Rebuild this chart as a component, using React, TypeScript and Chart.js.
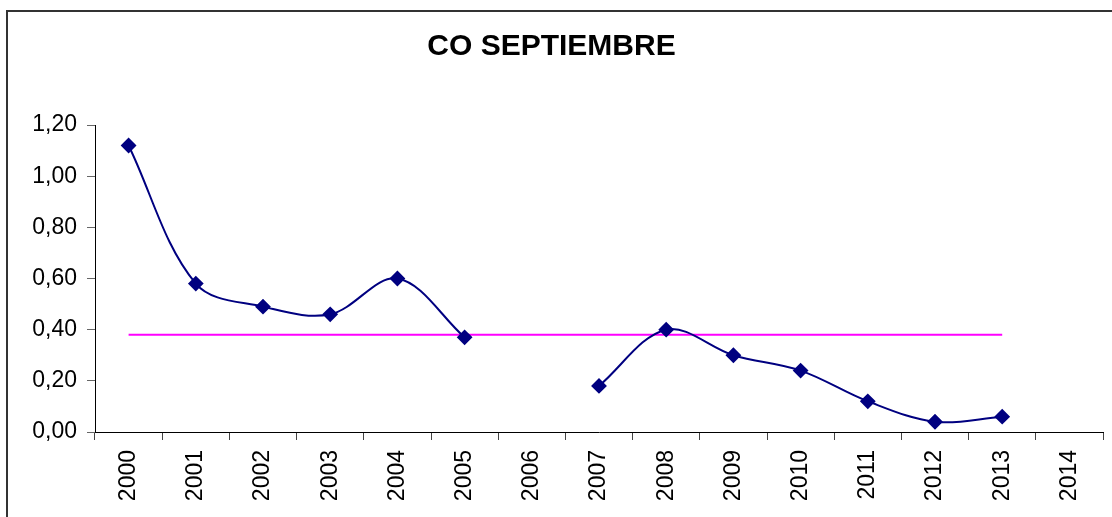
import React, { useEffect, useRef } from "react";
import { Chart, registerables } from "chart.js";

Chart.register(...registerables);

const years = ["2000", "2001", "2002", "2003", "2004", "2005", "2006", "2007", "2008", "2009", "2010", "2011", "2012", "2013", "2014"];
const coValues = [1.12, 0.58, 0.49, 0.46, 0.6, 0.37, null, 0.18, 0.4, 0.3, 0.24, 0.12, 0.04, 0.06, null];
const averageValues = [0.38, 0.38, 0.38, 0.38, 0.38, 0.38, 0.38, 0.38, 0.38, 0.38, 0.38, 0.38, 0.38, 0.38, null];
const chartTitle = "CO SEPTIEMBRE";

const FONT = "'Liberation Sans', Arial, sans-serif";

export default function App() {
  const canvasRef = useRef<HTMLCanvasElement | null>(null);

  useEffect(() => {
    const canvas = canvasRef.current;
    if (!canvas) return;
    const chart = new Chart(canvas, {
      type: "line",
      data: {
        labels: years,
        datasets: [
          {
            label: "CO",
            data: coValues as any,
            borderColor: "#000080",
            backgroundColor: "#000080",
            borderWidth: 2,
            tension: 0.35,
            spanGaps: false,
            pointStyle: "rectRot",
            pointRadius: 6.5,
            pointHoverRadius: 6.5,
            pointBackgroundColor: "#000080",
            pointBorderColor: "#000080",
            order: 1,
          },
          {
            label: "Promedio",
            data: averageValues as any,
            borderColor: "#FF00FF",
            backgroundColor: "#FF00FF",
            borderWidth: 2,
            tension: 0,
            pointRadius: 0,
            pointHoverRadius: 0,
            order: 2,
          },
        ],
      },
      options: {
        animation: false,
        responsive: false,
        maintainAspectRatio: false,
        layout: { padding: { left: 0, right: 9, top: 0, bottom: 0 } },
        plugins: {
          legend: { display: false },
          tooltip: { enabled: false },
          title: {
            display: true,
            text: chartTitle,
            color: "#000000",
            font: { family: FONT, size: 30, weight: "bold" },
            padding: { top: 29, bottom: 60 },
          },
        },
        scales: {
          x: {
            type: "category",
            offset: true,
            afterFit: (scale: any) => {
              scale.height = 85;
            },
            grid: {
              offset: true,
              drawOnChartArea: false,
              drawTicks: true,
              tickLength: 8,
              color: "#444444",
              lineWidth: 1,
            },
            border: { display: true, color: "#000000", width: 1 },
            ticks: {
              minRotation: 90,
              maxRotation: 90,
              autoSkip: false,
              padding: 10,
              color: "#000000",
              font: { family: FONT, size: 23 },
            },
          },
          y: {
            min: 0,
            max: 1.2,
            afterFit: (scale: any) => {
              scale.width = 95;
            },
            grid: {
              drawOnChartArea: false,
              drawTicks: true,
              tickLength: 8,
              color: "#666666",
            },
            border: { display: true, color: "#000000", width: 1 },
            ticks: {
              stepSize: 0.2,
              padding: 10,
              color: "#000000",
              font: { family: FONT, size: 23 },
              callback: (v: any) => Number(v).toFixed(2).replace(".", ","),
            },
          },
        },
      },
    });
    return () => chart.destroy();
  }, []);

  return (
    <div style={{ position: "absolute", left: 0, top: 0, width: 1112, height: 517, background: "#ffffff", overflow: "hidden" }}>
      <div
        style={{
          position: "absolute",
          left: 6,
          top: 10,
          width: 1120,
          height: 520,
          borderLeft: "2px solid #333333",
          borderTop: "2px solid #333333",
          boxSizing: "border-box",
        }}
      />
      <canvas ref={canvasRef} width={1112} height={517} style={{ position: "absolute", left: 0, top: 0, width: 1112, height: 517 }} />
    </div>
  );
}
